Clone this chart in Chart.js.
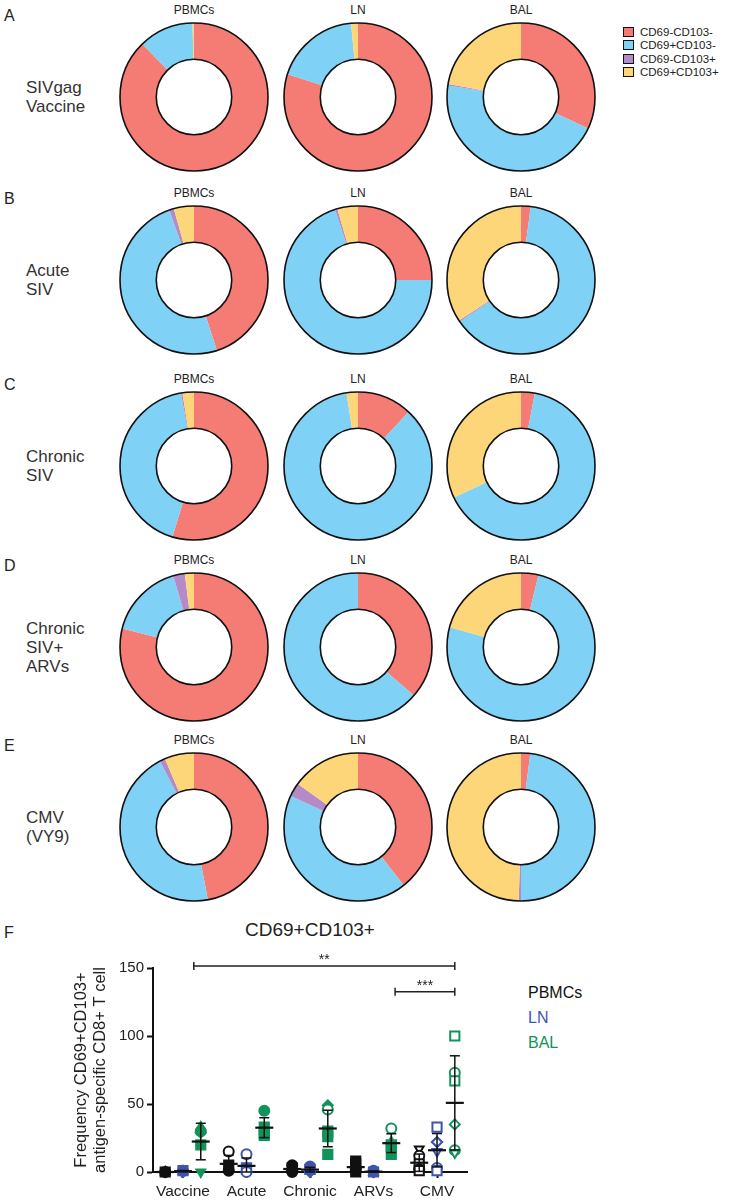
<!DOCTYPE html>
<html>
<head>
<meta charset="utf-8">
<script src="https://cdn.jsdelivr.net/npm/chart.js@4.4.1/dist/chart.umd.min.js"></script>
<style>
    body { margin: 0; background: #fff; font-family: "Liberation Sans", Arial, sans-serif; }
    #page { position: relative; width: 737px; height: 1200px; overflow: hidden; }
    .donut { position: absolute; }
    .txt { position: absolute; white-space: nowrap; color: #222; }
    .tissue { font-size: 12px; transform: translate(-50%, -50%); }
    .letter { font-size: 16px; left: 4px; transform: translateY(-50%); }
    .rowname { font-size: 17px; line-height: 19px; left: 26px; color: #333; transform: translateY(-50%); }
    .key { font-size: 11.5px; transform: translateY(-50%); }
    .box { position: absolute; width: 9px; height: 8px; border: 1px solid #111; }
    .flegend { font-size: 16px; left: 528px; transform: translateY(-50%); }
</style>
</head>
<body>
<div id="page"></div>
<script>
const subsets = ['CD69-CD103-', 'CD69+CD103-', 'CD69-CD103+', 'CD69+CD103+'];
const tissues = ['PBMCs', 'LN', 'BAL'];
const rowLetters = ['A', 'B', 'C', 'D', 'E'];
const groupNames = [['SIVgag', 'Vaccine'], ['Acute', 'SIV'], ['Chronic', 'SIV'], ['Chronic', 'SIV+', 'ARVs'], ['CMV', '(VY9)']];

// percentages per tissue: [CD69-CD103-, CD69+CD103-, CD69-CD103+, CD69+CD103+]
const vaccinePie = [[87.7, 12, 0, 0.3], [80, 18.5, 0, 1.5], [32, 45.5, 0.3, 22.2]];
const acutePie = [[45, 49.6, 1, 4.4], [25, 70, 0.5, 4.5], [2.1, 63.4, 0.3, 34.2]];
const chronicPie = [[54.7, 42.5, 0.3, 2.5], [12, 85.5, 0, 2.5], [3, 65, 0, 32]];
const arvPie = [[79, 16.5, 2.5, 2], [36.4, 63.6, 0, 0], [3.8, 75.5, 0, 20.7]];
const cmvPie = [[47, 45.4, 1.2, 6.4], [39.4, 42.5, 3, 15.1], [2, 48, 0.5, 49.5]];

// panel F
const categories = ['Vaccine', 'Acute', 'Chronic', 'ARVs', 'CMV'];
const pbmcValues = [[0, 0, 0, 0], [15, 5, 3, 1], [5, 3, 2, 1, 0], [8, 6, 3, 1, 0], [17, 12, 6, 3, 2, 1]];
const lnValues = [[1, 1, 0.5, 0], [13, 3, 2, 0], [4, 2, 1, 0], [1, 0, 0, 0], [33, 22, 22, 15, 3, 1]];
const balValues = [[33, 30, 29, 20, 0], [45, 33, 30, 28, 27], [49, 46, 30, 28, 26, 13], [32, 22, 20, 19, 13], [100, 73, 67, 35, 16, 14]];
const yTicks = [0, 50, 100, 150];
const brackets = [
    { from: 1.17, to: 5.28, y: 151.5, text: '**' },
    { from: 4.34, to: 5.28, y: 132.6, text: '***' }
];

const pieRows = [vaccinePie, acutePie, chronicPie, arvPie, cmvPie];
const subsetColors = ['#f47c74', '#7fd1f6', '#b48bc6', '#fdd67a'];
const tissueColors = ['#111111', '#3f55ad', '#13935a'];
const colX = [194, 358, 521];
const rowY = [97, 280, 466, 647, 827];
const offsets = [-0.28, 0, 0.28];

// marker look per tissue / category ('down' = triangle pointing down, 'o' prefix = open)
const defaultShapes = ['circle', 'rect', 'triangle', 'rectRot', 'circle', 'rect'];
const markerLooks = {
    '0-1': ['ocircle', 'rect', 'star', 'circle'],
    '0-3': ['rect', 'rect', 'circle', 'circle', 'rect'],
    '0-4': ['odown', 'ocircle', 'orect', 'otriangle', 'ocircle', 'orect'],
    '1-1': ['ocircle', 'orect', 'orect', 'ocircle'],
    '1-4': ['orect', 'orectRot', 'orectRot', 'odown', 'ocircle', 'orect'],
    '2-0': ['triangle', 'circle', 'rectRot', 'rect', 'down'],
    '2-1': ['circle', 'rect', 'triangle', 'rect', 'rect'],
    '2-2': ['rectRot', 'ocircle', 'rect', 'triangle', 'rect', 'rect'],
    '2-3': ['ocircle', 'triangle', 'rect', 'rect', 'rect'],
    '2-4': ['orect', 'ocircle', 'orect', 'orectRot', 'ocircle', 'odown']
};

Chart.defaults.font.family = '"Liberation Sans", Arial, sans-serif';
Chart.defaults.color = '#222';

const page = document.getElementById('page');

function addText(cls, text, x, y, color) {
    const el = document.createElement('div');
    el.className = 'txt ' + cls;
    el.innerHTML = text;
    el.style.left = x + 'px';
    el.style.top = y + 'px';
    if (color) el.style.color = color;
    page.appendChild(el);
    return el;
}

const ringOutline = {
    id: 'ringOutline',
    afterDatasetsDraw(chart) {
        const arc = chart.getDatasetMeta(0).data[0];
        const ctx = chart.ctx;
        ctx.save();
        ctx.strokeStyle = '#111';
        ctx.lineWidth = 1.6;
        [arc.outerRadius, arc.innerRadius].forEach(r => {
            ctx.beginPath();
            ctx.arc(arc.x, arc.y, r, 0, Math.PI * 2);
            ctx.stroke();
        });
        ctx.restore();
    }
};

function drawDonut(values, cx, cy) {
    const canvas = document.createElement('canvas');
    canvas.className = 'donut';
    canvas.width = 160;
    canvas.height = 160;
    canvas.style.left = (cx - 80) + 'px';
    canvas.style.top = (cy - 80) + 'px';
    page.appendChild(canvas);
    new Chart(canvas.getContext('2d'), {
        type: 'doughnut',
        data: {
            labels: subsets,
            datasets: [{
                data: values,
                backgroundColor: subsetColors,
                borderWidth: 0,
                hoverOffset: 0
            }]
        },
        options: {
            responsive: false,
            animation: false,
            cutout: '51%',
            layout: { padding: 6 },
            plugins: { legend: { display: false }, tooltip: { enabled: false } }
        },
        plugins: [ringOutline]
    });
}

pieRows.forEach((row, r) => {
    addText('letter', rowLetters[r], 4, rowY[r] - 81);
    addText('rowname', groupNames[r].join('<br>'), 26, rowY[r]);
    row.forEach((values, t) => {
        addText('tissue', tissues[t], colX[t], rowY[r] - 87);
        drawDonut(values, colX[t], rowY[r]);
    });
});

// legend top right
subsets.forEach((name, i) => {
    const y = 32 + i * 13.3;
    const box = document.createElement('div');
    box.className = 'box';
    box.style.left = '623px';
    box.style.top = (y - 5) + 'px';
    box.style.background = subsetColors[i];
    page.appendChild(box);
    addText('key', name, 640, y);
});

// panel F
addText('letter', 'F', 4, 933);
const fTitle = addText('', 'CD69+CD103+', 310, 930);
fTitle.style.fontSize = '19px';
fTitle.style.transform = 'translate(-50%, -50%)';
tissues.forEach((name, t) => addText('flegend', name, 528, 993 + t * 25, tissueColors[t]));

const seriesValues = [pbmcValues, lnValues, balValues];

function buildDataset(t) {
    const pts = [], shapes = [], fills = [], radii = [], rots = [];
    seriesValues[t].forEach((vals, c) => {
        const looks = markerLooks[t + '-' + c] || defaultShapes;
        vals.forEach((v, i) => {
            pts.push({ x: c + 1 + offsets[t], y: v });
            let look = looks[i % looks.length];
            const open = look.startsWith('o');
            if (open) look = look.slice(1);
            const down = look === 'down';
            const shape = down ? 'triangle' : look;
            shapes.push(shape);
            rots.push(down ? 180 : 0);
            radii.push(shape === 'rect' ? 6.5 : 5);
            fills.push(open ? '#fff' : tissueColors[t]);
        });
    });
    return {
        label: tissues[t],
        data: pts,
        pointStyle: shapes,
        pointRotation: rots,
        pointRadius: radii,
        pointBackgroundColor: fills,
        pointBorderColor: tissueColors[t],
        pointBorderWidth: 2,
        showLine: false,
        clip: false
    };
}

function mean(a) { return a.reduce((s, v) => s + v, 0) / a.length; }
function sd(a) {
    const m = mean(a);
    return Math.sqrt(a.reduce((s, v) => s + (v - m) * (v - m), 0) / (a.length - 1));
}

const errorBars = {
    id: 'errorBars',
    afterDatasetsDraw(chart) {
        const { ctx, scales: { x, y } } = chart;
        const line = (x1, y1, x2, y2) => { ctx.beginPath(); ctx.moveTo(x1, y1); ctx.lineTo(x2, y2); ctx.stroke(); };
        ctx.save();
        ctx.strokeStyle = '#111';
        seriesValues.forEach((series, t) => series.forEach((vals, c) => {
            const m = mean(vals), s = sd(vals);
            const px = x.getPixelForValue(c + 1 + offsets[t]);
            const top = y.getPixelForValue(m + s);
            const bot = y.getPixelForValue(Math.max(m - s, 0));
            const mid = y.getPixelForValue(m);
            ctx.lineWidth = 1.5;
            line(px, top, px, bot);
            line(px - 5, top, px + 5, top);
            line(px - 5, bot, px + 5, bot);
            ctx.lineWidth = 2.2;
            line(px - 9, mid, px + 9, mid);
        }));
        ctx.restore();
    }
};

const sigBrackets = {
    id: 'sigBrackets',
    afterDraw(chart) {
        const { ctx, scales: { x, y } } = chart;
        ctx.save();
        ctx.strokeStyle = '#222';
        ctx.fillStyle = '#222';
        ctx.lineWidth = 1.5;
        ctx.font = '14px "Liberation Sans", Arial, sans-serif';
        ctx.textAlign = 'center';
        ctx.textBaseline = 'bottom';
        brackets.forEach(b => {
            const x1 = x.getPixelForValue(b.from), x2 = x.getPixelForValue(b.to), py = y.getPixelForValue(b.y);
            ctx.beginPath();
            ctx.moveTo(x1, py - 4); ctx.lineTo(x1, py + 4);
            ctx.moveTo(x1, py); ctx.lineTo(x2, py);
            ctx.moveTo(x2, py - 4); ctx.lineTo(x2, py + 4);
            ctx.stroke();
            ctx.fillText(b.text, (x1 + x2) / 2, py + 1);
        });
        ctx.restore();
    }
};

const scatterCanvas = document.createElement('canvas');
scatterCanvas.width = 480;
scatterCanvas.height = 250;
scatterCanvas.style.position = 'absolute';
scatterCanvas.style.left = '0px';
scatterCanvas.style.top = '950px';
page.appendChild(scatterCanvas);

new Chart(scatterCanvas.getContext('2d'), {
    type: 'scatter',
    data: { datasets: [0, 1, 2].map(buildDataset) },
    options: {
        responsive: false,
        animation: false,
        layout: { padding: { left: 68, top: 18, right: 13, bottom: 0 } },
        plugins: { legend: { display: false }, tooltip: { enabled: false } },
        scales: {
            x: {
                type: 'linear',
                min: 0.528,
                max: 5.472,
                afterBuildTicks: s => { s.ticks = categories.map((_, i) => ({ value: i + 1 })); },
                afterFit: s => { s.height = 28; },
                border: { color: '#111', width: 2 },
                grid: { drawOnChartArea: false, drawTicks: true, tickLength: 6, tickWidth: 2, tickColor: '#111' },
                ticks: { callback: (v, i) => categories[i], font: { size: 15.5 }, color: '#222', padding: 4, autoSkip: false, maxRotation: 0 }
            },
            y: {
                min: 0,
                max: 150,
                afterBuildTicks: s => { s.ticks = yTicks.map(v => ({ value: v })); },
                afterFit: s => { s.width = 85; },
                border: { color: '#111', width: 2 },
                grid: { drawOnChartArea: false, drawTicks: true, tickLength: 6, tickWidth: 2, tickColor: '#111' },
                ticks: { font: { size: 15 }, color: '#222', padding: 3 },
                title: {
                    display: true,
                    text: ['Frequency CD69+CD103+', 'antigen-specific CD8+ T cell'],
                    font: { size: 16.5, lineHeight: 1.15 },
                    color: '#222',
                    padding: { top: 4, bottom: 0 }
                }
            }
        }
    },
    plugins: [errorBars, sigBrackets]
});
</script>
</body>
</html>
